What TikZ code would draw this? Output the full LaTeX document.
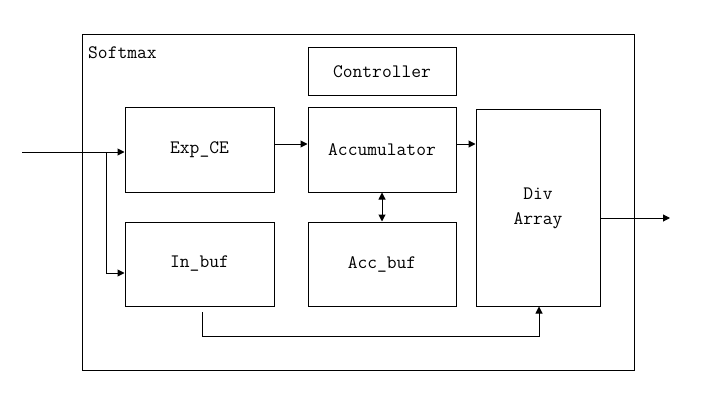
\documentclass[tikz,border=0pt]{standalone}
\usetikzlibrary{arrows.meta}
\begin{document}
\begin{tikzpicture}[x=1pt,y=-1pt,
  blk/.style={draw,line width=1pt,inner sep=0pt,font=\ttfamily\fontsize{19}{23}\selectfont,align=center},
  conn/.style={line width=1pt},
  arr/.style={conn,-{Triangle[length=7pt,width=7pt]}},
  darr/.style={conn,{Triangle[length=7pt,width=7pt]}-{Triangle[length=7pt,width=7pt]}}]
\useasboundingbox (0,0) rectangle (703,409);
\node[blk,minimum width=552pt,minimum height=335pt] (outer) at (358,202.5) {};
\node[anchor=base west,inner sep=0pt,font=\ttfamily\fontsize{19}{23}\selectfont] (lbl) at (88,59) {Softmax};
\node[blk,minimum width=148pt,minimum height=48pt] (ctrl) at (382,72) {Controller};
\node[blk,minimum width=149pt,minimum height=84pt] (exp) at (199.5,150) {Exp\_CE};
\node[blk,minimum width=148pt,minimum height=84pt] (acc) at (382,150) {Accumulator};
\node[blk,minimum width=149pt,minimum height=84pt] (inb) at (199.5,264) {In\_buf};
\node[blk,minimum width=148pt,minimum height=84pt] (accb) at (382,264) {Acc\_buf};
\node[blk,minimum width=124pt,minimum height=196pt] (div) at (538,208) {Div\\[2pt]Array};
\coordinate (in) at (22,152);
\coordinate (br) at (106,152);
\coordinate (out) at (670,218);
\coordinate (bs) at (202,312);
\coordinate (bl) at (202,336);
\draw[arr] (in) -- (in -| exp.west);
\draw[arr] (br) |- ([yshift=-9pt]inb.west);
\draw[arr] ([yshift=6pt]exp.east) -- ([yshift=6pt]acc.west);
\draw[arr] ([yshift=6pt]acc.east) -- ([yshift=6pt]acc.east -| div.west);
\draw[darr] (acc.south) -- (accb.north);
\draw[arr] (out -| div.east) -- (out);
\draw[arr] (bs) -- (bl) -| ([xshift=1pt]div.south);
\end{tikzpicture}
\end{document}
